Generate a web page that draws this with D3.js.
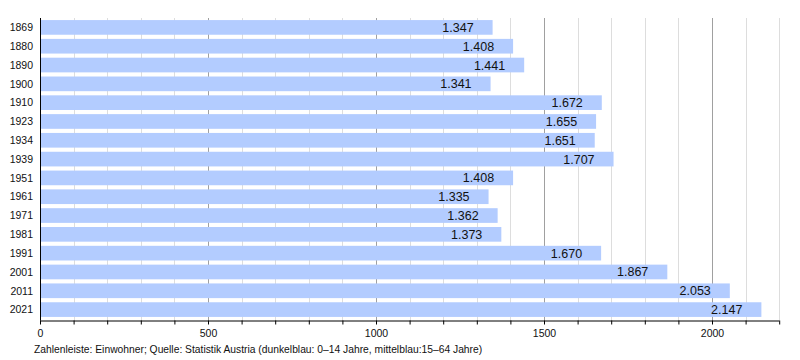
<!DOCTYPE html>
<html><head><meta charset="utf-8">
<script src="https://cdn.jsdelivr.net/npm/d3@7"></script>
<style>body{margin:0;background:#fff}svg{display:block;font-family:"Liberation Sans",Arial,sans-serif}</style>
</head><body><svg id="c" width="800" height="360"></svg>
<script>
const years = ["1869","1880","1890","1900","1910","1923","1934","1939","1951","1961","1971","1981","1991","2001","2011","2021"];
const population = [1347,1408,1441,1341,1672,1655,1651,1707,1408,1335,1362,1373,1670,1867,2053,2147];
const valueLabels = ["1.347","1.408","1.441","1.341","1.672","1.655","1.651","1.707","1.408","1.335","1.362","1.373","1.670","1.867","2.053","2.147"];
const majorTicks = [0,500,1000,1500,2000];
const footnote = "Zahlenleiste: Einwohner; Quelle: Statistik Austria (dunkelblau: 0–14 Jahre, mittelblau:15–64 Jahre)";

(function(){
const svg = d3.select("#c");
const x = d3.scaleLinear().domain([0,2200]).range([40,779.2]);
const y = d3.scaleBand().domain(years).range([18,319]).paddingInner(0.22).paddingOuter(0.11);
const plotTop = 18, plotBottom = 320.5;

const minor = d3.range(100,2201,100).filter(v=>v%500!==0);
svg.append("g").selectAll("line").data(minor).join("line")
  .attr("x1",d=>Math.round(x(d))+0.5).attr("x2",d=>Math.round(x(d))+0.5)
  .attr("y1",plotTop).attr("y2",plotBottom).attr("stroke","#dddddd");
svg.append("g").selectAll("line").data(majorTicks.filter(d=>d>0)).join("line")
  .attr("x1",d=>Math.round(x(d))+0.5).attr("x2",d=>Math.round(x(d))+0.5)
  .attr("y1",plotTop).attr("y2",plotBottom).attr("stroke","#a0a0a0");

svg.append("g").selectAll("rect").data(years).join("rect")
  .attr("x",x(0)).attr("y",d=>y(d)).attr("height",y.bandwidth())
  .attr("width",(d,i)=>x(population[i])-x(0)).attr("fill","#b3ccff");

svg.append("g").selectAll("text").data(years).join("text")
  .attr("x",(d,i)=>x(population[i])-19).attr("y",d=>y(d)+y.bandwidth()/2)
  .attr("dy","0.36em").attr("text-anchor","end").attr("font-size",12.5).attr("fill","#111")
  .text((d,i)=>valueLabels[i]);

svg.append("g").selectAll("text").data(years).join("text")
  .attr("x",33).attr("y",d=>y(d)+y.bandwidth()/2).attr("dy","0.36em")
  .attr("text-anchor","end").attr("font-size",10.5).attr("fill","#111").text(d=>d);

const ax = svg.append("g").attr("transform",`translate(0,${plotBottom})`)
  .call(d3.axisBottom(x).tickValues(d3.range(0,2201,100)).tickSize(4).tickFormat(d=>majorTicks.includes(d)?d:""));
ax.select(".domain").attr("stroke","#000").attr("d",`M${x(0)},0.5H${x(2200)}`);
ax.selectAll(".tick line").attr("stroke","#000");
ax.selectAll(".tick text").attr("font-size",10.5).attr("fill","#111").attr("dy","0.95em")
  .attr("font-family","Liberation Sans, Arial, sans-serif");

svg.append("line").attr("x1",40.5).attr("x2",40.5).attr("y1",plotTop).attr("y2",plotBottom).attr("stroke","#000");

svg.append("text").attr("x",34).attr("y",353).attr("font-size",10.3).attr("fill","#111").text(footnote);
})();
</script></body></html>
